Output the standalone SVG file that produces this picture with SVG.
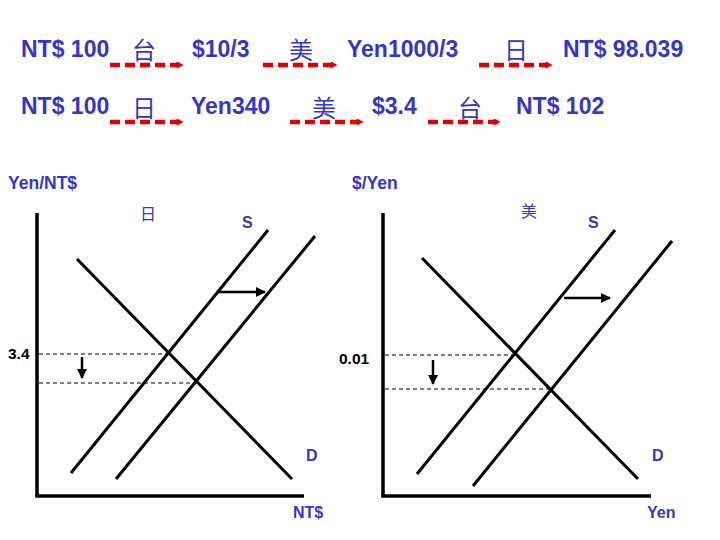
<svg xmlns="http://www.w3.org/2000/svg" width="720" height="540" viewBox="0 0 720 540">
<style>
.t{font-family:"Liberation Sans",Arial,sans-serif;font-weight:bold;fill:#3535c8}
.big{font-size:23px}
.cjk{font-family:"Noto Sans CJK TC","Noto Sans CJK SC",sans-serif;font-weight:normal;fill:#3535c8;text-anchor:middle}
.lab{font-size:16px}
.blk{font-family:"Liberation Sans",Arial,sans-serif;font-weight:bold;fill:#000;font-size:15.5px}
.red{stroke:#e00000;stroke-width:4.5;stroke-dasharray:10 5;fill:none}
.ln{stroke:#000;stroke-width:3;fill:none}
.ax{stroke:#000;stroke-width:3.5;fill:none}
.dsh{stroke:#000;stroke-width:1;stroke-dasharray:4 3;fill:none}
.arr{stroke:#000;stroke-width:2.5;fill:none}
</style>
<defs>
<marker id="rh" viewBox="0 0 10 10" refX="9" refY="5" markerWidth="8" markerHeight="7" markerUnits="userSpaceOnUse" orient="auto">
<path d="M0,0 L10,5 L0,10 z" fill="#e00000"/>
</marker>
<marker id="bh" viewBox="0 0 10 10" refX="9" refY="5" markerWidth="10" markerHeight="10" markerUnits="userSpaceOnUse" orient="auto">
<path d="M0,0 L10,5 L0,10 z" fill="#000"/>
</marker>
<marker id="bh2" viewBox="0 0 10 10" refX="9" refY="5" markerWidth="12" markerHeight="10" markerUnits="userSpaceOnUse" orient="auto">
<path d="M0,0 L10,5 L0,10 z" fill="#000"/>
</marker>
</defs>
<rect width="720" height="540" fill="#fff"/>

<g id="row1">
<text class="t big" x="21" y="57">NT$ 100</text>
<text class="cjk" x="144" y="59" font-size="24">台</text>
<text class="t big" x="192" y="57">$10/3</text>
<text class="cjk" x="301" y="59" font-size="24">美</text>
<text class="t big" x="347" y="57">Yen1000/3</text>
<text class="cjk" x="516" y="59" font-size="24">日</text>
<text class="t big" x="563" y="57">NT$ 98.039</text>
</g>
<g id="row2">
<text class="t big" x="21" y="114">NT$ 100</text>
<text class="cjk" x="144" y="117" font-size="24">日</text>
<text class="t big" x="191" y="114">Yen340</text>
<text class="cjk" x="324" y="117" font-size="24">美</text>
<text class="t big" x="372" y="114">$3.4</text>
<text class="cjk" x="470" y="117" font-size="24">台</text>
<text class="t big" x="516" y="114">NT$ 102</text>
</g>

<g id="connectors">
<line class="red" x1="110" y1="65" x2="183" y2="65" marker-end="url(#rh)"/>
<line class="red" x1="263" y1="65" x2="337" y2="65" marker-end="url(#rh)"/>
<line class="red" x1="479" y1="65" x2="552" y2="65" marker-end="url(#rh)"/>
<line class="red" x1="110" y1="122" x2="183" y2="122" marker-end="url(#rh)"/>
<line class="red" x1="290" y1="122" x2="363" y2="122" marker-end="url(#rh)"/>
<line class="red" x1="428" y1="122" x2="500" y2="122" marker-end="url(#rh)"/>
</g>

<g id="chart-left">
<text class="t" x="8" y="189" font-size="17.5">Yen/NT$</text>
<text class="cjk" x="148" y="220" font-size="16">日</text>
<text class="t lab" x="242" y="228">S</text>
<line class="ax" x1="37" y1="213" x2="37" y2="497"/>
<line class="ax" x1="35.3" y1="496" x2="304" y2="496"/>
<line class="ln" x1="77" y1="259" x2="292" y2="479"/>
<line class="ln" x1="268" y1="230" x2="71" y2="473"/>
<line class="ln" x1="315" y1="236" x2="116" y2="479"/>
<line class="dsh" x1="39" y1="354" x2="169" y2="354"/>
<line class="dsh" x1="39" y1="383" x2="197" y2="383"/>
<text class="blk" x="8" y="359">3.4</text>
<line class="arr" x1="82" y1="357" x2="82" y2="378" marker-end="url(#bh)"/>
<line class="arr" x1="218" y1="292" x2="265" y2="292" marker-end="url(#bh2)"/>
<text class="t lab" x="306" y="461">D</text>
<text class="t lab" x="293" y="518">NT$</text>
</g>

<g id="chart-right">
<text class="t" x="352" y="189" font-size="17.5">$/Yen</text>
<text class="cjk" x="529" y="217" font-size="16">美</text>
<text class="t lab" x="588" y="228">S</text>
<line class="ax" x1="383" y1="213" x2="383" y2="497"/>
<line class="ax" x1="381.3" y1="496" x2="651" y2="496"/>
<line class="ln" x1="422" y1="258" x2="638" y2="479"/>
<line class="ln" x1="615" y1="230" x2="417" y2="474"/>
<line class="ln" x1="672" y1="241" x2="473" y2="486"/>
<line class="dsh" x1="385" y1="355" x2="515" y2="355"/>
<line class="dsh" x1="385" y1="389" x2="551" y2="389"/>
<text class="blk" x="339" y="364" font-size="16">0.01</text>
<line class="arr" x1="433" y1="360" x2="433" y2="384" marker-end="url(#bh)"/>
<line class="arr" x1="564" y1="298" x2="610" y2="298" marker-end="url(#bh2)"/>
<text class="t lab" x="652" y="461">D</text>
<text class="t lab" x="647" y="518">Yen</text>
</g>
</svg>
